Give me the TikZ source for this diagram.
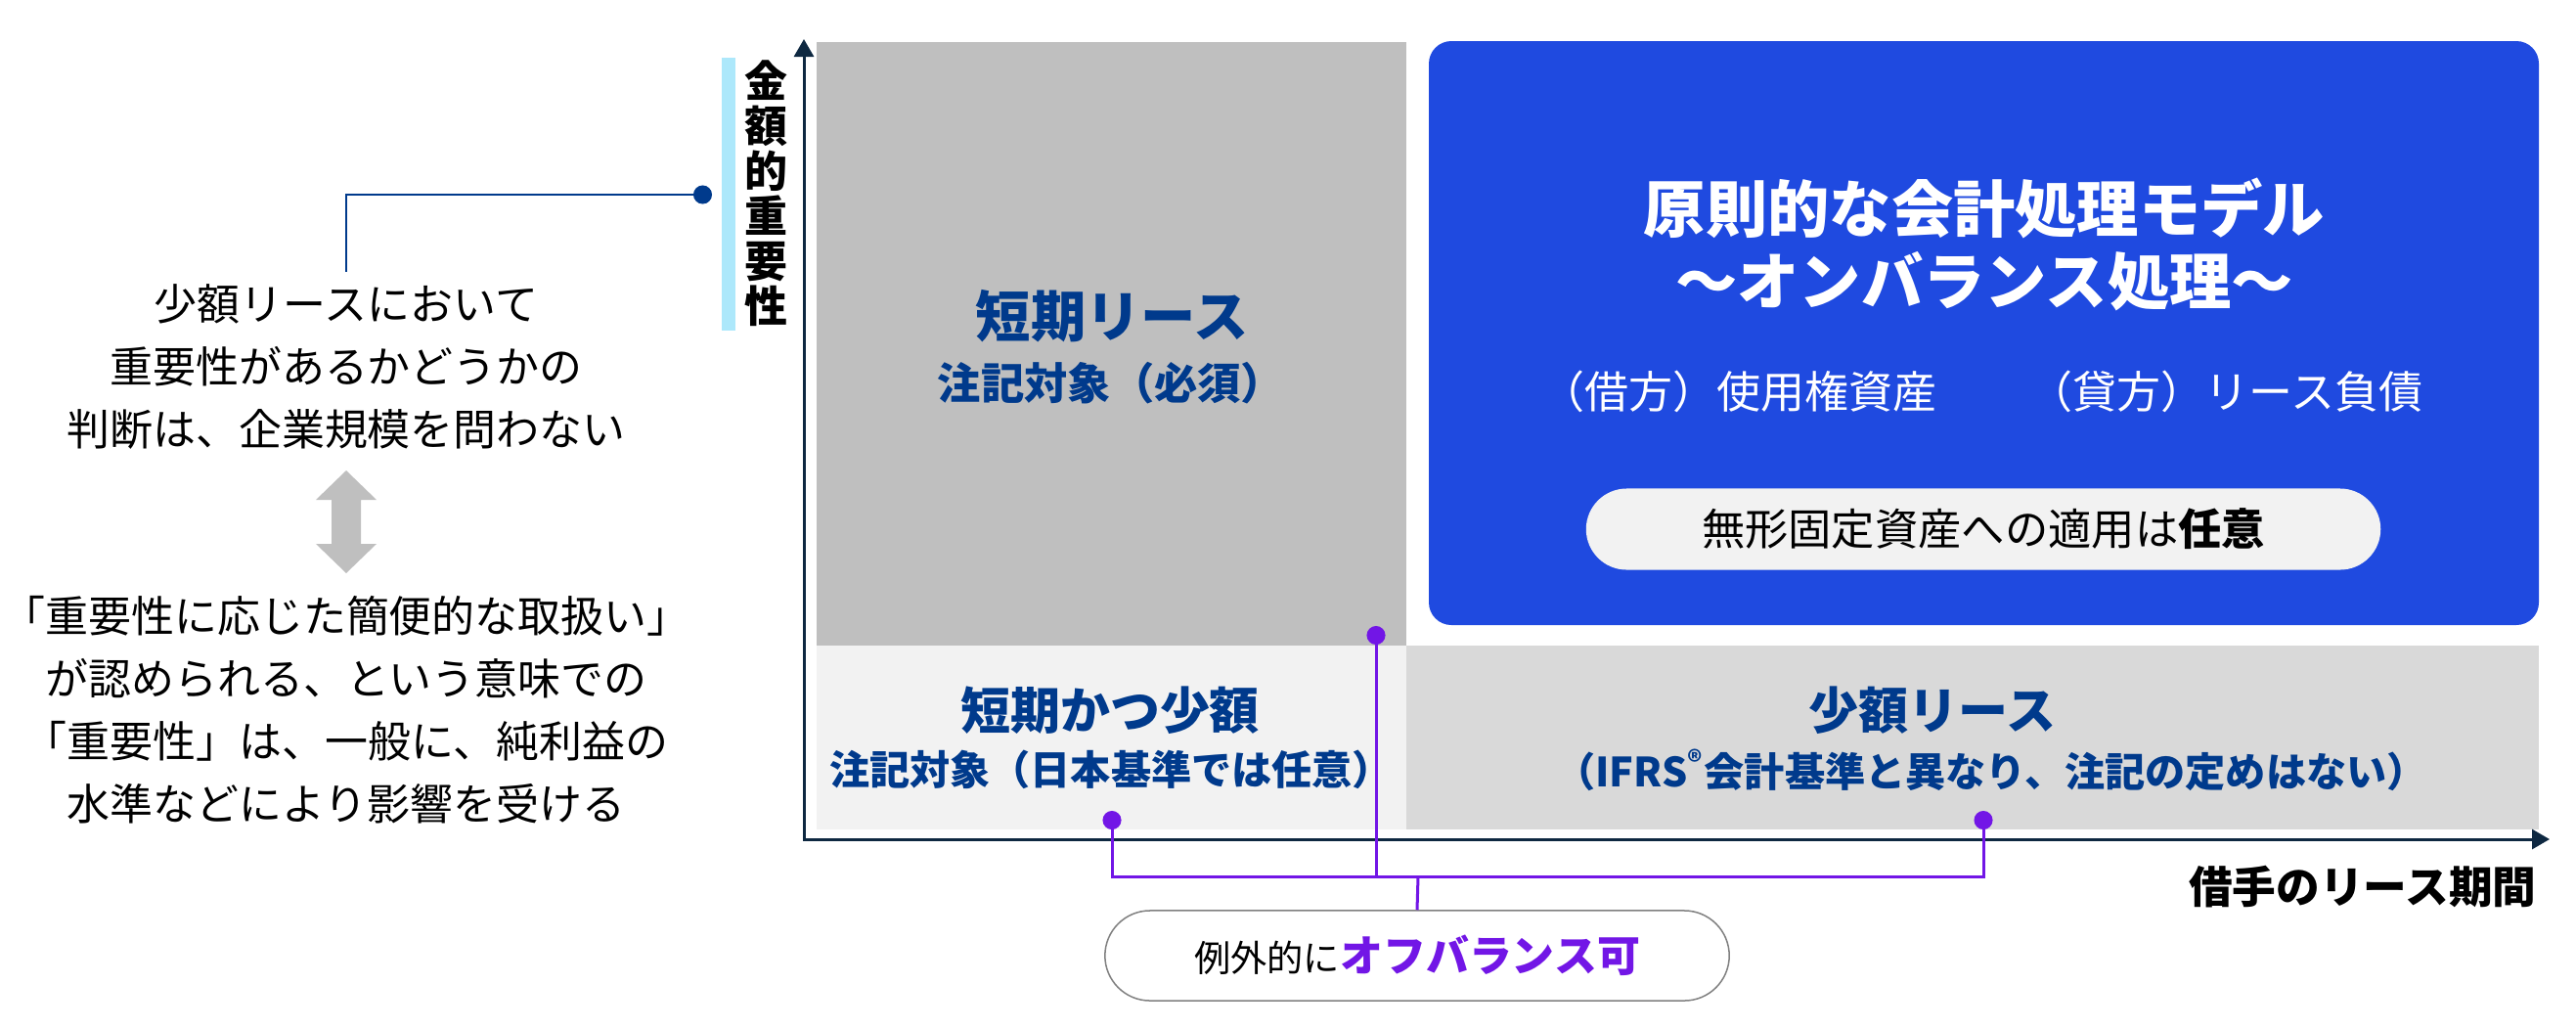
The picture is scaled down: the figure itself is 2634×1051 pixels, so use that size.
\documentclass[tikz,border=0pt]{standalone}
\usepackage{fontspec}
\setmainfont{Noto Sans CJK JP}
\usetikzlibrary{arrows.meta}
\definecolor{navy}{HTML}{003A8C}
\definecolor{axisnavy}{HTML}{0E2841}
\definecolor{boxblue}{HTML}{1F4AE0}
\definecolor{purp}{HTML}{7216E6}
\definecolor{skybar}{HTML}{ADE8FB}
\definecolor{midgray}{HTML}{BFBFBF}
\definecolor{palegray}{HTML}{F2F2F2}
\definecolor{lightgray}{HTML}{D9D9D9}
\tikzset{
  body/.style={align=center, font=\fontsize{12.5}{18.2}\selectfont},
  cellhead/.style={navy, inner sep=0pt, font=\bfseries\fontsize{14.5}{16}\selectfont},
  cellnote/.style={navy, inner sep=0pt, font=\bfseries\fontsize{11.7}{14}\selectfont},
  purpline/.style={purp, line width=0.03cm},
}
\begin{document}
\begin{tikzpicture}[x=0.01cm,y=-0.01cm]
\useasboundingbox (0,0) rectangle (2634,1051);

\fill[midgray] (835,43) rectangle (1438,660);
\fill[palegray] (835,660) rectangle (1438,848);
\fill[lightgray] (1438,660) rectangle (2596,848);
\fill[boxblue, rounded corners=0.23cm] (1461,42) rectangle (2596,639);
\fill[skybar] (738,59) rectangle (752,338);
\draw[axisnavy, line width=0.03cm, {Triangle[length=0.18cm,width=0.2cm]}-{Triangle[length=0.18cm,width=0.2cm]}] (822,40) -- (822,858) -- (2607,858);

\node[inner sep=0pt, align=center, font=\bfseries\fontsize{12.5}{13.1}\selectfont] (ylabel) at (783,198) {金\\額\\的\\重\\要\\性};
\node[anchor=east, inner sep=0pt, font=\bfseries\fontsize{12.7}{14}\selectfont] (xlabel) at (2594,907) {借手のリース期間};

\node[body] (judge) at (354,375) {少額リースにおいて\\重要性があるかどうかの\\判断は、企業規模を問わない};
\node[body] (simple) at (354,726) {「重要性に応じた簡便的な取扱い」\\が認められる、という意味での\\「重要性」は、一般に、純利益の\\水準などにより影響を受ける};
\fill[midgray] (354,481) -- (385,511) -- (369,511) -- (369,556) -- (385,556) -- (354,586) -- (323,556) -- (339,556) -- (339,511) -- (323,511) -- cycle;
\coordinate (bardot) at (728,199);
\draw[navy, line width=0.027cm, {Circle[length=0.19cm]}-] (bardot) -| (judge.north);

\node[navy, inner sep=0pt, font=\bfseries\fontsize{16}{18}\selectfont] (shortlbl) at (1137,323) {短期リース};
\node[navy, inner sep=0pt, font=\bfseries\fontsize{12.6}{14}\selectfont] (shortnote) at (1136,392) {注記対象（必須）};

\node[white, align=center, font=\bfseries\fontsize{18}{20.8}\selectfont] (model) at (2029,250) {原則的な会計処理モデル\\〜オンバランス処理〜};
\node[white, inner sep=0pt, font=\fontsize{12.8}{14}\selectfont] (debit) at (1778,400) {（借方）使用権資産};
\node[white, inner sep=0pt, font=\fontsize{12.8}{14}\selectfont] (credit) at (2276,400) {（貸方）リース負債};
\node[fill=palegray, rounded corners=0.415cm, minimum width=8.12cm, minimum height=0.83cm, font=\fontsize{12.6}{14}\selectfont] (intang) at (2028,541) {無形固定資産への適用は\textbf{任意}};

\node[cellhead] (bothlbl) at (1135,726) {短期かつ少額};
\node[cellnote] (bothnote) at (1136,787) {注記対象（日本基準では任意）};
\node[cellhead] (smalllbl) at (1976,726) {少額リース};
\node[cellnote] (smallnote) at (2036,787) {（IFRS\textsuperscript{®}会計基準と異なり、注記の定めはない）};

\node[draw=gray, line width=0.015cm, fill=white, rounded corners=0.46cm, minimum width=6.38cm, minimum height=0.92cm] (offbs) at (1449,977) {{\fontsize{10.6}{12}\selectfont 例外的に}{\bfseries\fontsize{12.5}{14}\selectfont\color{purp}オフバランス可}};
\coordinate (join) at (1450,896);
\coordinate (shortdot) at (1407,640);
\coordinate (bothdot) at (1137,829);
\coordinate (smalldot) at (2028,829);
\foreach \d in {shortdot,bothdot,smalldot} {\draw[purpline, {Circle[length=0.19cm]}-] (\d) |- (join);}
\draw[purpline] (join) -- (offbs.north);
\end{tikzpicture}
\end{document}
